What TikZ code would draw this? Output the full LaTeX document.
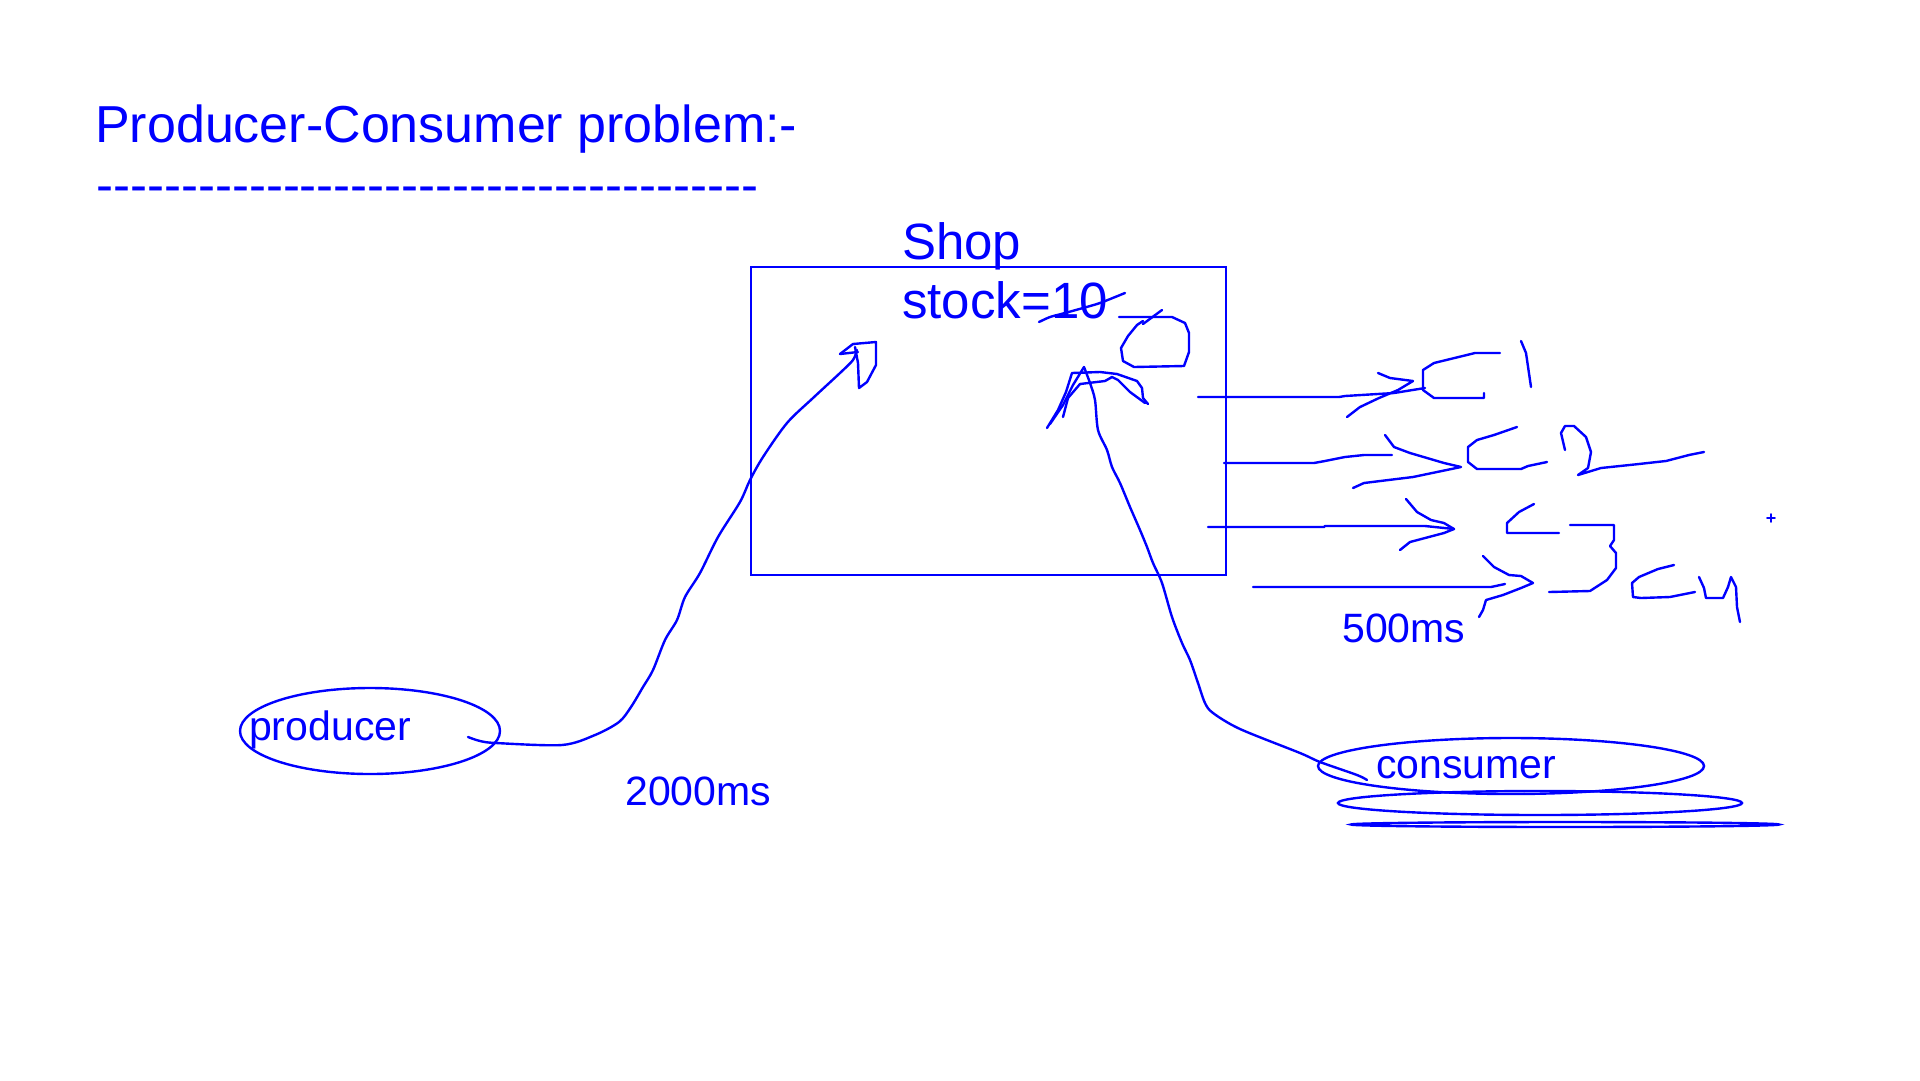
\documentclass[tikz,border=0pt]{standalone}
\usepackage{fontspec}
\setmainfont{Liberation Sans}
\usetikzlibrary{shapes.geometric}
\definecolor{ink}{RGB}{0,0,255}
\tikzset{
  pen/.style={draw=ink, line width=2.4pt, line join=round, line cap=round},
  lbl/.style={text=ink, inner sep=0pt, anchor=base west},
  oval/.style={ellipse, draw=ink, line width=2.4pt, inner sep=0pt},
  bigtxt/.style={font=\fontsize{52}{60}\selectfont},
  midtxt/.style={font=\fontsize{51}{59}\selectfont},
  smalltxt/.style={font=\fontsize{41}{48}\selectfont},
}
\newcommand\hyx{\hbox{-}}
\newcommand\hyten{\hyx\hyx\hyx\hyx\hyx\hyx\hyx\hyx\hyx\hyx}
\begin{document}
\begin{tikzpicture}[x=1pt,y=-1pt]
\useasboundingbox[fill=white] (0,0) rectangle (1920,1080);

% title
\node[lbl, bigtxt] (title) at (95,142) {Producer-Consumer problem:-};
\node[lbl, midtxt] (rule) at (96,202) {\hyten\hyten\hyten\hyx\hyx\hyx\hyx\hyx\hyx\hyx\hyx\hyx};

% shop box
\node[draw=ink, line width=2.6pt, minimum width=475pt, minimum height=308pt, inner sep=0pt] (shop) at (988.5,421) {};
\node[lbl, midtxt] (shoplbl) at (902,259) {Shop};
\node[lbl, midtxt] (stock) at (902,318) {stock=10};

% strike through 10 and the 0 scribble
\draw[pen] plot[smooth, tension=0.4] coordinates {(1039,322) (1050,317) (1065,313) (1083,308) (1100,303) (1125,293)};
\draw[pen] (1119,317) -- (1172,317) -- (1185,323) -- (1189,333) -- (1189,352) -- (1184,366) -- (1134,367) -- (1123,361) -- (1121,348) -- (1128,336) -- (1137,325) -- (1143,321);
\draw[pen] (1143,324) -- (1162,310);

% producer
\node[oval, minimum width=260pt, minimum height=86pt] (producer) at (370,731) {};
\node[lbl, smalltxt] (producertxt) at (249,740) {producer};
\node[lbl, smalltxt] (t2000) at (625,805) {2000ms};
\coordinate (pstart) at (468,737);
\coordinate (ptip) at (857,350);
\draw[pen] plot[smooth, tension=0.5] coordinates {(pstart) (480,741) (496,743) (562,745) (595,735) (619,722) (631,707) (643,687) (653,670) (665,640) (677,620) (685,597) (700,573) (718,537) (740,502) (750,480) (763,457) (787,423) (813,398) (840,373) (853,360) (ptip)};
\draw[pen] (840,354) -- (853,344) -- (876,342) -- (876,365) -- (867,382) -- (859,388) -- (858,363) -- (855,347);
\draw[pen] (840,354) -- (858,352);

% consumer
\node[oval, minimum width=386pt, minimum height=56pt] (consumer) at (1511,766) {};
\node[oval, minimum width=404pt, minimum height=24pt] (consumer2) at (1540,803) {};
\node[oval, minimum width=428pt, minimum height=5pt] (consumer3) at (1565,824.5) {};
\node[lbl, smalltxt] (consumertxt) at (1376,778) {consumer};
\coordinate (cstart) at (1367,780);
\coordinate (ctip) at (1084,367);
\draw[pen] plot[smooth, tension=0.5] coordinates {(cstart) (1357,775) (1320,762) (1300,753) (1240,729) (1213,713) (1205,703) (1198,683) (1190,660) (1182,643) (1172,617) (1162,583) (1153,563) (1147,547) (1140,530) (1130,507) (1120,483) (1112,467) (1107,450) (1098,430) (1095,400) (1090,383) (ctip)};
\draw[pen] (1047,428) -- (1058,410) -- (1066,392) -- (1072,373) -- (1100,372) -- (1117,374) -- (1137,381) -- (1142,388) -- (1143,398) -- (1148,404);
\draw[pen] (1050,424) -- (1063,405) -- (1073,385) -- (ctip);
\draw[pen] (1063,417) -- (1068,398) -- (1080,384) -- (1105,381) -- (1112,377) -- (1118,380) -- (1130,392) -- (1145,403);

% outgoing lines with C1..C4
\draw[pen] (1198,397) -- (1339,397) -- (1345,396) -- (1394,393) -- (1425,388);
\draw[pen] (1378,373) -- (1390,378) -- (1413,381) -- (1398,390) -- (1379,398) -- (1360,407) -- (1347,417);
\draw[pen] (1500,353) -- (1475,353) -- (1434,363) -- (1423,370) -- (1423,390) -- (1434,398) -- (1484,398) -- (1484,393);
\draw[pen] (1521,341) -- (1526,353) -- (1531,387);

\draw[pen] (1224,463) -- (1314,463) -- (1325,461) -- (1345,457) -- (1364,455) -- (1392,455);
\draw[pen] (1385,435) -- (1394,447) -- (1410,453) -- (1444,463) -- (1461,467) -- (1413,477) -- (1364,483) -- (1353,488);
\draw[pen] (1517,427) -- (1494,435) -- (1477,440) -- (1468,447) -- (1468,462) -- (1477,469) -- (1521,469) -- (1528,466) -- (1547,462);
\draw[pen] (1565,450) -- (1561,433) -- (1565,426) -- (1574,426) -- (1586,437) -- (1591,452) -- (1588,468) -- (1578,475) -- (1601,468) -- (1639,464) -- (1666,461) -- (1689,455) -- (1704,452);

\draw[pen] (1208,527) -- (1324,527) -- (1325,526) -- (1425,526) -- (1454,529);
\draw[pen] (1406,499) -- (1417,512) -- (1431,520) -- (1444,523) -- (1454,529) -- (1444,533) -- (1410,542) -- (1400,550);
\draw[pen] (1534,504) -- (1519,512) -- (1507,523) -- (1507,533) -- (1559,533);
\draw[pen] (1570,525) -- (1614,525) -- (1614,540) -- (1610,546) -- (1616,553) -- (1616,568) -- (1607,580) -- (1590,591) -- (1549,592);

\draw[pen] (1253,587) -- (1491,587) -- (1505,584);
\draw[pen] (1483,556) -- (1494,567) -- (1509,575) -- (1521,576) -- (1533,583) -- (1521,588) -- (1503,595) -- (1486,600) -- (1483,610) -- (1479,617);
\draw[pen] (1674,565) -- (1658,569) -- (1639,577) -- (1632,583) -- (1633,597) -- (1641,598) -- (1670,597) -- (1695,592);
\draw[pen] (1699,577) -- (1704,588) -- (1706,598) -- (1723,598) -- (1728,587) -- (1731,577) -- (1736,587) -- (1737,607) -- (1740,622);

\node[lbl, smalltxt] (t500) at (1342,642) {500ms};

% small plus mark
\draw[pen, line width=1.8pt] (1767,518) -- (1775,518);
\draw[pen, line width=1.8pt] (1771,514) -- (1771,522);
\end{tikzpicture}
\end{document}
